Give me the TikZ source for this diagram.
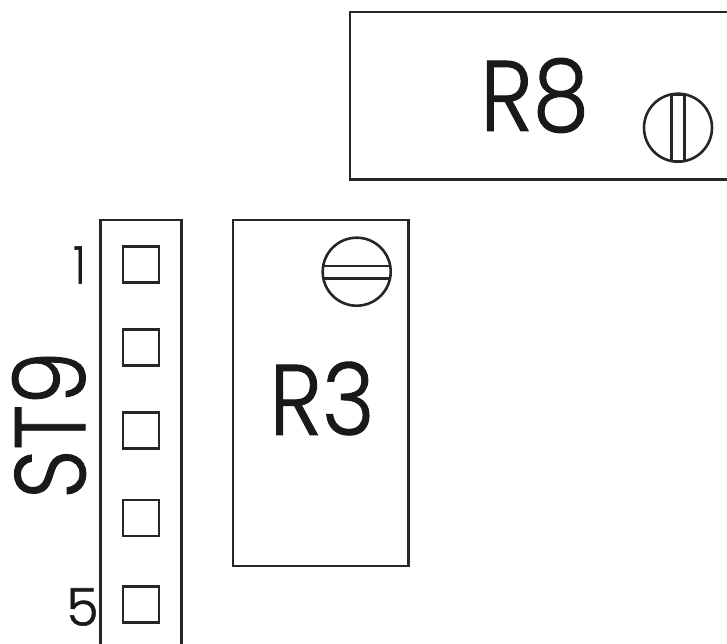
\documentclass[tikz,border=0pt]{standalone}
\usepackage{fontspec}
\setmainfont{Poppins Light}[FakeBold=1.0]
\tikzset{
  line/.style={draw=black!85, line width=2.6pt},
  pin/.style={draw=black!85, line width=2.6pt, minimum width=36pt, minimum height=36pt, inner sep=0pt, anchor=center},
  screw/.style={draw=black!85, line width=2.6pt, circle, minimum size=68pt, inner sep=0pt},
  big/.style={inner sep=0pt, text=black!90, font=\fontsize{100}{100}\selectfont},
  small/.style={inner sep=0pt, text=black!90, font=\fontsize{52}{52}\selectfont}
}
\begin{document}
\begin{tikzpicture}[x=1pt,y=-1pt]
\useasboundingbox (0,0) rectangle (727,644);
\clip (0,0) rectangle (727,644);
% boxes
\draw[line] (740,12) -- (350,12) -- (350,179.5) -- (740,179.5);
\node[line, minimum width=175.5pt, minimum height=346pt, inner sep=0pt] (r3box) at (320.7,393) {};
\draw[line] (100.5,660) -- (100.5,220) -- (181.5,220) -- (181.5,660);
% pins
\node[pin] (p1) at (141,264.5) {};
\node[pin] (p2) at (141,347.5) {};
\node[pin] (p3) at (141,430.7) {};
\node[pin] (p4) at (141,518) {};
\node[pin] (p5) at (141,604.7) {};
% screws
\node[screw] (s8) at (678,127.7) {};
\draw[line] (671.7,94.5) -- (671.7,161) (684.3,94.5) -- (684.3,161) (671.7,94.5) -- (684.3,94.5) (671.7,161) -- (684.3,161);
\node[screw] (s3) at (356.7,271.7) {};
\draw[line] (323.5,266) -- (390,266) (323.5,278.3) -- (390,278.3);
% text
\node[big, xscale=.9] (r8) at (534.5,95.5) {R8};
\node[big, xscale=.9] (r3) at (322,398.5) {R3};
\node[big, rotate=90, xscale=.86] (st9) at (49,425) {ST9};
\node[small, xscale=.8] (n1) at (79.5,265) {1};
\node[small] (n5) at (82.5,607) {5};
\end{tikzpicture}
\end{document}
